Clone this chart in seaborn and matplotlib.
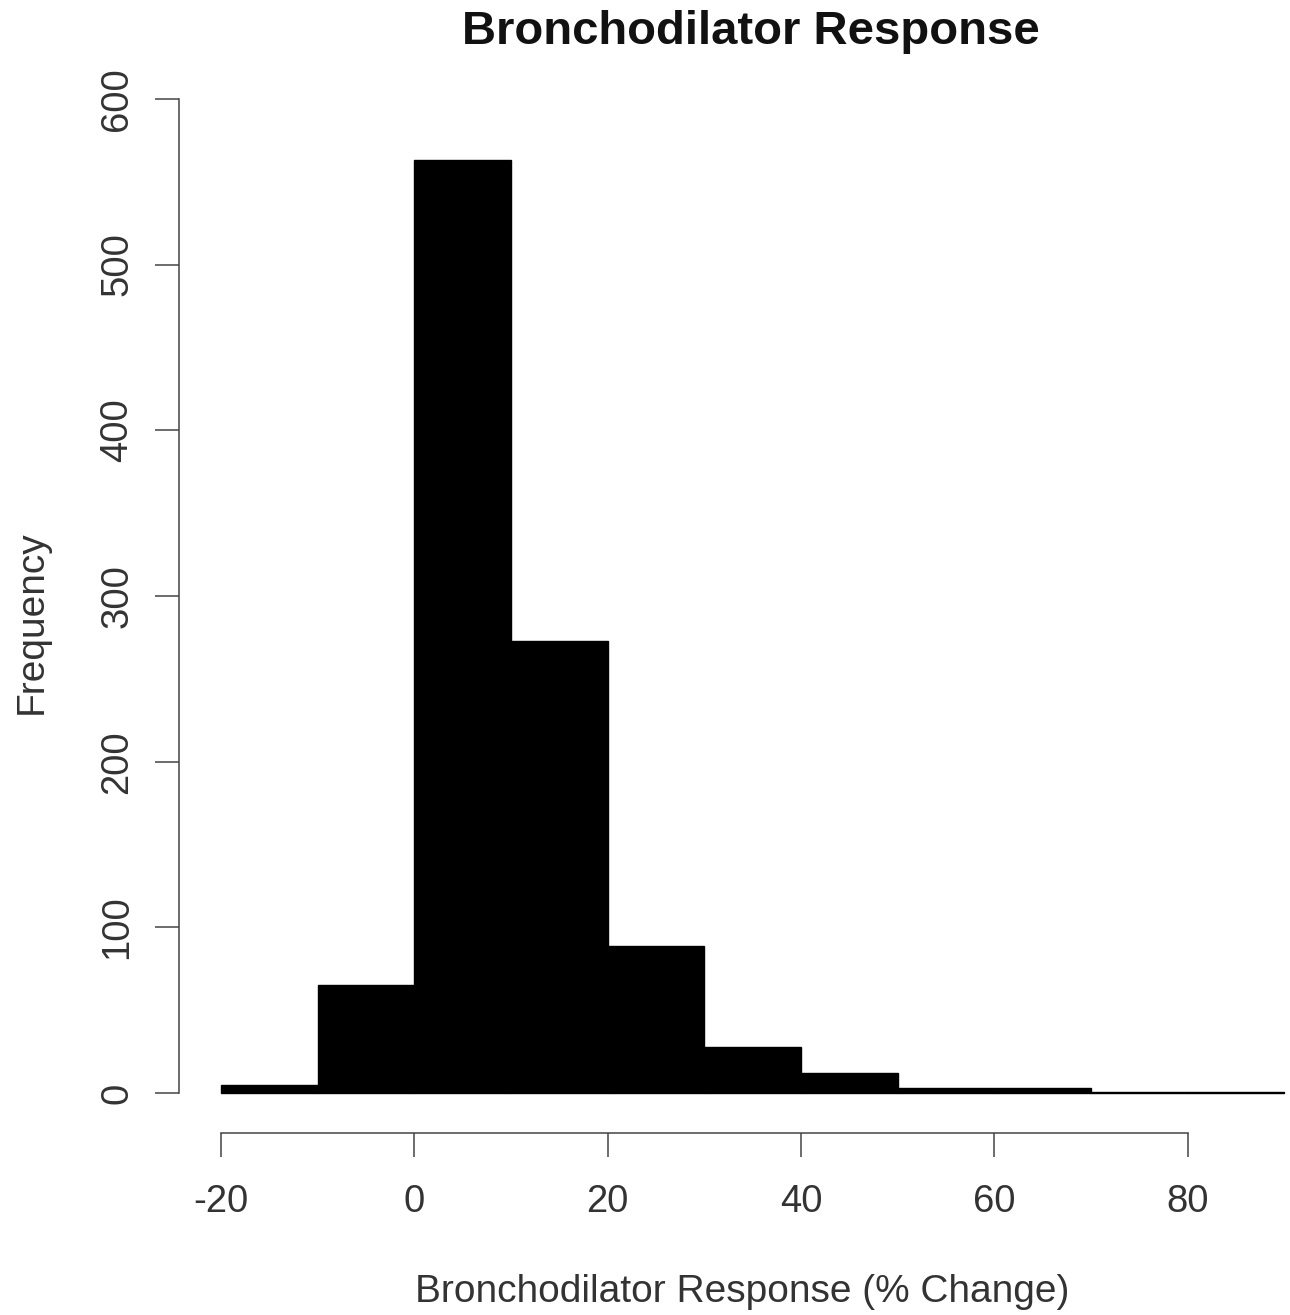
import matplotlib
matplotlib.use("Agg")
import matplotlib.pyplot as plt
import seaborn as sns
import numpy as np

bin_edges = [-20, -10, 0, 10, 20, 30, 40, 50, 60, 70, 80, 90]
counts = [5, 65, 563, 273, 89, 28, 12, 3, 3, 1, 1]
x_ticks = [-20, 0, 20, 40, 60, 80]
y_ticks = [0, 100, 200, 300, 400, 500, 600]
title = "Bronchodilator Response"
x_label = "Bronchodilator Response (% Change)"
y_label = "Frequency"

sns.set_style("white")
plt.rcParams['font.family'] = ['Liberation Sans', 'DejaVu Sans']
plt.rcParams['axes.unicode_minus'] = False

centers = [(a + b) / 2 for a, b in zip(bin_edges[:-1], bin_edges[1:])]

fig = plt.figure(figsize=(12.9, 13.15), dpi=100)
ax = fig.add_axes([178.5 / 1290, 1 - 1133 / 1315, (1327 - 178.5) / 1290, (1133 - 59) / 1315])
sns.histplot(x=centers, weights=counts, bins=bin_edges, color="black",
             edgecolor="black", alpha=1, linewidth=1, ax=ax)

ax.set_xlim(-24.4, 94.4)
ax.set_ylim(-24, 624)
for s in ["top", "right"]:
    ax.spines[s].set_visible(False)
txtc = "#333333"
for s in ["left", "bottom"]:
    ax.spines[s].set_color("#444444")
    ax.spines[s].set_linewidth(1.1)
ax.spines["left"].set_bounds(0, 600)
ax.spines["bottom"].set_bounds(-20, 80)
ax.set_xticks(x_ticks)
ax.set_yticks(y_ticks)
ax.set_xticklabels([str(v) for v in x_ticks])
ax.set_yticklabels([str(v) for v in y_ticks], rotation=90, va="center")
ax.tick_params(axis="both", direction="out", length=17, width=1.1, color="#444444",
               labelcolor=txtc, labelsize=27.5)
ax.tick_params(axis="y", pad=14, left=True)
ax.tick_params(axis="x", pad=20, bottom=True)
ax.set_xlabel("")
ax.set_ylabel("")
ax.grid(False)

fig.text(751 / 1290, 1 - 32 / 1315, title, ha="center", va="center",
         fontsize=34, fontweight="bold", color="#111111")
fig.text(742 / 1290, 1 - 1292 / 1315, x_label, ha="center", va="center",
         fontsize=28, color=txtc)
fig.text(32 / 1290, 1 - 622 / 1315, y_label, ha="center", va="center",
         fontsize=28, color=txtc, rotation=90)

fig.savefig("out.png", dpi=100)
